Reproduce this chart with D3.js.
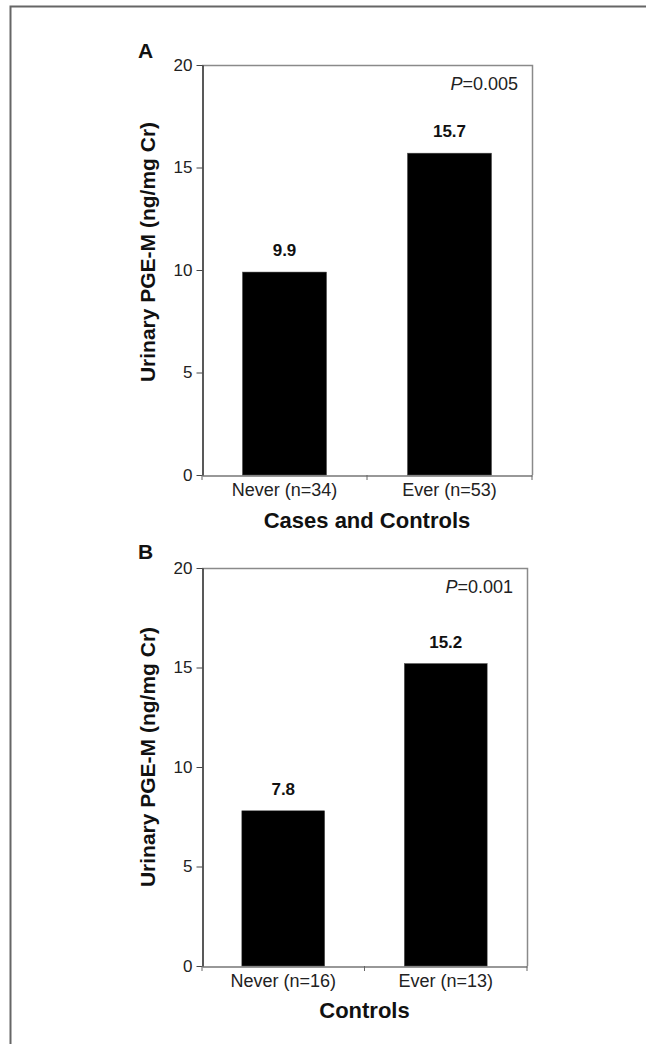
<!DOCTYPE html>
<html><head><meta charset="utf-8">
<script src="https://cdn.jsdelivr.net/npm/d3@7"></script>
<style>
body{margin:0;background:#fff;}
svg{display:block;font-family:"Liberation Sans",Arial,sans-serif;}
</style></head>
<body><svg id="c" width="646" height="1044"></svg>
<script>
// Data
const categoriesA = ["Never (n=34)", "Ever (n=53)"];
const valuesA = [9.9, 15.7];
const categoriesB = ["Never (n=16)", "Ever (n=13)"];
const valuesB = [7.8, 15.2];
const yTicks = [0, 5, 10, 15, 20];
const panelLabels = ["A", "B"];
const pValues = ["0.005", "0.001"];
const xTitles = ["Cases and Controls", "Controls"];
const yTitle = "Urinary PGE-M (ng/mg Cr)";

const svg = d3.select("#c");
// outer frame (partial)
svg.append("path").attr("d","M10.5,1044 L10.5,6.5 L646,6.5")
  .attr("fill","none").attr("stroke","#666").attr("stroke-width",2);

const panels = [
  {cats:categoriesA, vals:valuesA, x0:202, x1:532, y0:65, y1:475, label:panelLabels[0], p:pValues[0], xt:xTitles[0], xtY:528, lblY:58, ytY:252},
  {cats:categoriesB, vals:valuesB, x0:202, x1:527, y0:568, y1:966, label:panelLabels[1], p:pValues[1], xt:xTitles[1], xtY:1018, lblY:559, ytY:757}
];

panels.forEach(pn => {
  const g = svg.append("g");
  const x = d3.scaleBand().domain(pn.cats).range([pn.x0, pn.x1]).paddingInner(0.49).paddingOuter(0.245);
  const y = d3.scaleLinear().domain([0,20]).range([pn.y1, pn.y0]);

  // top/right border
  g.append("path").attr("d",`M${pn.x0},${pn.y0+0.5} L${pn.x1+0.5},${pn.y0+0.5} L${pn.x1+0.5},${pn.y1}`)
    .attr("fill","none").attr("stroke","#8a8a8a").attr("stroke-width",1.5);

  // bars
  g.selectAll("rect.bar").data(pn.vals).join("rect")
    .attr("x",(d,i)=>x(pn.cats[i])).attr("width",x.bandwidth())
    .attr("y",d=>y(d)).attr("height",d=>y(0)-y(d))
    .attr("fill","#000").attr("stroke","#555").attr("stroke-width",0.5);

  // value labels
  g.selectAll("text.val").data(pn.vals).join("text")
    .attr("x",(d,i)=>x(pn.cats[i])+x.bandwidth()/2).attr("y",d=>y(d)-16)
    .attr("text-anchor","middle").attr("font-size",17).attr("font-weight","bold").attr("fill","#111")
    .text(d=>d.toFixed(1));

  // y axis
  const ya = g.append("g").attr("transform",`translate(${pn.x0+0.5},0)`)
    .call(d3.axisLeft(y).tickValues(yTicks).tickSize(6).tickSizeOuter(0).tickPadding(4));
  ya.select(".domain").attr("stroke","#222").attr("stroke-width",1.5);
  ya.selectAll(".tick line").attr("stroke","#444");
  ya.selectAll(".tick text").attr("font-size",17).attr("fill","#222").attr("font-family","Liberation Sans, Arial, sans-serif");

  // x axis
  const xa = g.append("g").attr("transform",`translate(0,${pn.y1+0.5})`)
    .call(d3.axisBottom(x).tickSize(0).tickPadding(8));
  xa.select(".domain").attr("stroke","#333").attr("stroke-width",1.2);
  xa.selectAll(".tick text").attr("font-size",18).attr("fill","#222").attr("font-family","Liberation Sans, Arial, sans-serif");
  // category boundary ticks
  const bounds = [pn.x0, (pn.x0+pn.x1)/2, pn.x1];
  g.selectAll("line.xt").data(bounds).join("line")
    .attr("x1",d=>d).attr("x2",d=>d).attr("y1",pn.y1).attr("y2",pn.y1+5)
    .attr("stroke","#666").attr("stroke-width",1);

  // x title
  g.append("text").attr("x",(pn.x0+pn.x1)/2).attr("y",pn.xtY)
    .attr("text-anchor","middle").attr("font-size",22).attr("font-weight","bold").attr("fill","#111")
    .text(pn.xt);

  // y title
  g.append("text").attr("transform",`translate(${155},${pn.ytY}) rotate(-90)`)
    .attr("text-anchor","middle").attr("font-size",21).attr("font-weight","bold").attr("fill","#111")
    .text(yTitle);

  // panel letter
  g.append("text").attr("x",138).attr("y",pn.lblY)
    .attr("font-size",21).attr("font-weight","bold").attr("fill","#111").text(pn.label);

  // P value
  const pt = g.append("text").attr("x",pn.x1-14).attr("y",pn.y0+24.5)
    .attr("text-anchor","end").attr("font-size",18).attr("fill","#222");
  pt.append("tspan").attr("font-style","italic").text("P");
  pt.append("tspan").text("=" + pn.p);
});
</script></body></html>
